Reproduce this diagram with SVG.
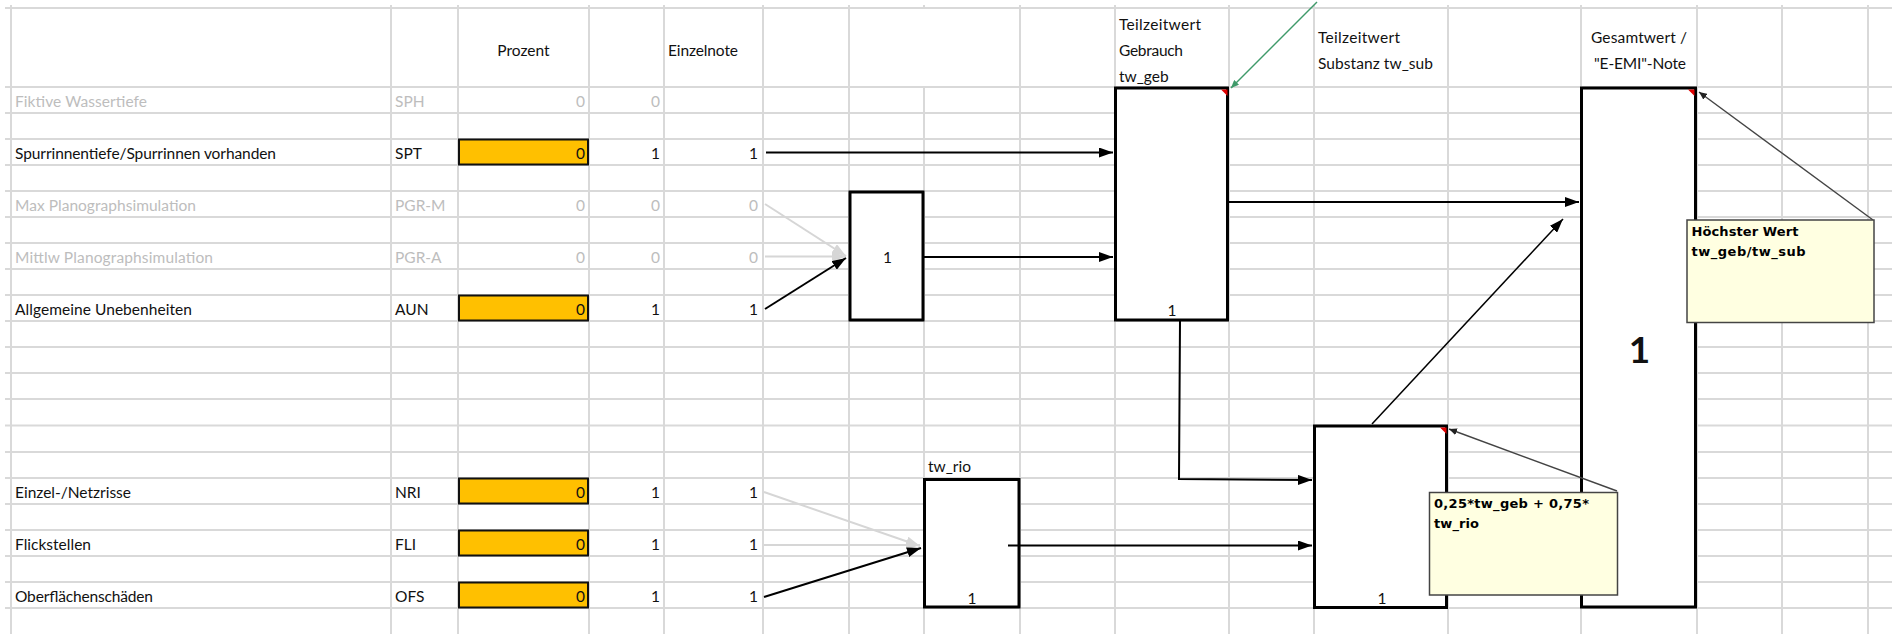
<svg xmlns="http://www.w3.org/2000/svg" width="1892" height="634" viewBox="0 0 1892 634">
<style>
.grid{stroke:#d9d9d9;stroke-width:2;fill:none}
.t{font-family:Lato,"Liberation Sans",sans-serif;font-size:15.5px;fill:#111}
.g{fill:#bdbdbd}
.r{text-anchor:end}
.m{text-anchor:middle}
.cell{fill:#FFC000;stroke:#111;stroke-width:2}
.box{fill:#fff;stroke:#000;stroke-width:3}
.conn{stroke:#000;stroke-width:2;fill:none}
.connG{stroke:#d6d6d6;stroke-width:2;fill:none}
.note{fill:#FFFFE1;stroke:#444;stroke-width:1.5}
.nt{font-family:"DejaVu Sans",sans-serif;font-weight:bold;font-size:13px;fill:#000}
.na{stroke:#444;stroke-width:1.4;fill:none}
.red{fill:#e00000}
</style>
<defs>
<marker id="ab" markerUnits="userSpaceOnUse" markerWidth="14" markerHeight="10" refX="14" refY="5" orient="auto"><path d="M0,0 L14,5 L0,10 z" fill="#000"/></marker>
<marker id="ag" markerUnits="userSpaceOnUse" markerWidth="14" markerHeight="10" refX="14" refY="5" orient="auto"><path d="M0,0 L14,5 L0,10 z" fill="#d6d6d6"/></marker>
<marker id="as" markerUnits="userSpaceOnUse" markerWidth="8" markerHeight="7" refX="8" refY="3.5" orient="auto"><path d="M0,0 L8,3.5 L0,7 z" fill="#222"/></marker>
<marker id="agr" markerUnits="userSpaceOnUse" markerWidth="8" markerHeight="7" refX="8" refY="3.5" orient="auto"><path d="M0,0 L8,3.5 L0,7 z" fill="#3f9a6a"/></marker>
</defs>
<rect width="1892" height="634" fill="#fff"/>
<g id="grid">
<path class="grid" d="M5,8H1892 M5,87H1892 M5,113H1892 M5,139H1892 M5,165H1892 M5,191H1892 M5,217H1892 M5,243H1892 M5,269H1892 M5,295H1892 M5,321H1892 M5,347H1892 M5,373H1892 M5,399H1892 M5,425.5H1892 M5,452H1892 M5,478H1892 M5,504H1892 M5,530H1892 M5,556H1892 M5,582H1892 M5,608H1892"/>
<path class="grid" d="M11,5V634 M391,5V634 M458,5V634 M589,5V634 M664,5V634 M763,5V634 M849,5V634 M924,5V8 M924,87V634 M1020,5V634 M1115,5V634 M1229,5V634 M1314,5V634 M1448,5V634 M1581,5V634 M1697,5V634 M1782,5V634 M1868,5V634"/>
</g>
<g id="headers">
<text class="t m" x="523.5" y="56">Prozent</text>
<text class="t" x="668" y="56" textLength="70">Einzelnote</text>
<text class="t" x="1119" y="30" textLength="82">Teilzeitwert</text>
<text class="t" x="1119" y="56" textLength="64">Gebrauch</text>
<text class="t" x="1119" y="82">tw_geb</text>
<text class="t" x="1318" y="43" textLength="82">Teilzeitwert</text>
<text class="t" x="1318" y="69" textLength="115">Substanz tw_sub</text>
<text class="t" x="1591" y="43" textLength="96">Gesamtwert /</text>
<text class="t" x="1594" y="69" textLength="92">"E-EMI"-Note</text>
</g>
<g id="rows">
<g id="row-sph">
<text class="t g" x="15" y="107" textLength="132">Fiktive Wassertiefe</text>
<text class="t g" x="395" y="107">SPH</text>
<text class="t g r" x="585" y="107">0</text>
<text class="t g r" x="660" y="107">0</text>
</g>
<g id="row-spt">
<text class="t" x="15" y="159" textLength="261">Spurrinnentiefe/Spurrinnen vorhanden</text>
<text class="t" x="395" y="159">SPT</text>
<rect class="cell" x="459" y="139.5" width="129" height="25"/>
<text class="t r" x="585" y="159">0</text>
<text class="t r" x="660" y="159">1</text>
<text class="t r" x="758" y="159">1</text>
</g>
<g id="row-pgrm">
<text class="t g" x="15" y="211" textLength="181">Max Planographsimulation</text>
<text class="t g" x="395" y="211">PGR-M</text>
<text class="t g r" x="585" y="211">0</text>
<text class="t g r" x="660" y="211">0</text>
<text class="t g r" x="758" y="211">0</text>
</g>
<g id="row-pgra">
<text class="t g" x="15" y="263" textLength="198">Mittlw Planographsimulation</text>
<text class="t g" x="395" y="263">PGR-A</text>
<text class="t g r" x="585" y="263">0</text>
<text class="t g r" x="660" y="263">0</text>
<text class="t g r" x="758" y="263">0</text>
</g>
<g id="row-aun">
<text class="t" x="15" y="315" textLength="177">Allgemeine Unebenheiten</text>
<text class="t" x="395" y="315">AUN</text>
<rect class="cell" x="459" y="295.5" width="129" height="25"/>
<text class="t r" x="585" y="315">0</text>
<text class="t r" x="660" y="315">1</text>
<text class="t r" x="758" y="315">1</text>
</g>
<g id="row-nri">
<text class="t" x="15" y="498" textLength="116">Einzel-/Netzrisse</text>
<text class="t" x="395" y="498">NRI</text>
<rect class="cell" x="459" y="478.5" width="129" height="25"/>
<text class="t r" x="585" y="498">0</text>
<text class="t r" x="660" y="498">1</text>
<text class="t r" x="758" y="498">1</text>
</g>
<g id="row-fli">
<text class="t" x="15" y="550" textLength="76">Flickstellen</text>
<text class="t" x="395" y="550">FLI</text>
<rect class="cell" x="459" y="530.5" width="129" height="25"/>
<text class="t r" x="585" y="550">0</text>
<text class="t r" x="660" y="550">1</text>
<text class="t r" x="758" y="550">1</text>
</g>
<g id="row-ofs">
<text class="t" x="15" y="602" textLength="138">Oberflächenschäden</text>
<text class="t" x="395" y="602">OFS</text>
<rect class="cell" x="459" y="582.5" width="129" height="25"/>
<text class="t r" x="585" y="602">0</text>
<text class="t r" x="660" y="602">1</text>
<text class="t r" x="758" y="602">1</text>
</g>
</g>
<g id="node-pgr">
<rect class="box" x="850" y="192" width="73" height="128"/>
<text class="t m" x="887.5" y="263">1</text>
</g>
<g id="node-tw_geb">
<rect class="box" x="1115.5" y="88" width="112" height="232"/>
<text class="t m" x="1172" y="316">1</text>
<path class="red" d="M1221,89.5 L1227.5,89.5 L1227.5,96 z"/>
</g>
<g id="node-tw_rio">
<text class="t" x="928" y="472">tw_rio</text>
<rect class="box" x="924.5" y="479.5" width="94.5" height="127.5"/>
<text class="t m" x="972" y="604">1</text>
</g>
<g id="node-tw_sub">
<rect class="box" x="1314.5" y="426" width="132" height="181.5"/>
<text class="t m" x="1382" y="604">1</text>
<path class="red" d="M1440,427.5 L1446.5,427.5 L1446.5,434 z"/>
</g>
<g id="node-gesamt">
<rect class="box" x="1581.5" y="88" width="114" height="519"/>
<text x="1639.5" y="363" text-anchor="middle" font-family="Lato,'Liberation Sans',sans-serif" font-weight="bold" font-size="37" fill="#111">1</text>
<path class="red" d="M1688,89.5 L1694.5,89.5 L1694.5,96 z"/>
</g>
<g id="connectors">
<path class="connG" d="M765,204 L846,256" marker-end="url(#ag)"/>
<path class="connG" d="M765,256.5 L846,256.5" marker-end="url(#ag)"/>
<path class="conn" d="M765,309 L846,258" marker-end="url(#ab)"/>
<path class="conn" d="M766,152.5 L1113,152.5" marker-end="url(#ab)"/>
<path class="conn" d="M924,257 L1113,257" marker-end="url(#ab)"/>
<path class="conn" d="M1229,202 L1579,202" marker-end="url(#ab)"/>
<path class="conn" d="M1180,321 L1179,479 L1312,480" marker-end="url(#ab)"/>
<path class="connG" d="M764,492 L920,546" marker-end="url(#ag)"/>
<path class="connG" d="M764,545 L920,545" marker-end="url(#ag)"/>
<path class="conn" d="M764,597 L921,548" marker-end="url(#ab)"/>
<path class="conn" d="M1008,545.5 L1312,545.5" marker-end="url(#ab)"/>
<path class="conn" style="stroke-width:1.5" d="M1372,424 L1563,219" marker-end="url(#ab)"/>
</g>
<g id="note-hoechster">
<path class="na" d="M1873,220 L1699,92" marker-end="url(#as)"/>
<rect class="note" x="1687" y="220" width="187" height="102.5"/>
<text class="nt" x="1691.5" y="236" textLength="107">Höchster Wert</text>
<text class="nt" x="1691.5" y="256" textLength="114">tw_geb/tw_sub</text>
</g>
<g id="note-formel">
<path class="na" d="M1617,491 L1449,429" marker-end="url(#as)"/>
<rect class="note" x="1429.5" y="492.5" width="188" height="102.5"/>
<text class="nt" x="1434" y="508" textLength="155">0,25*tw_geb + 0,75*</text>
<text class="nt" x="1434" y="528" textLength="45">tw_rio</text>
</g>
<g id="note-comment-arrow">
<path d="M1317,2 L1231,88" stroke="#3f9a6a" stroke-width="1.4" fill="none" marker-end="url(#agr)"/>
</g>
</svg>
